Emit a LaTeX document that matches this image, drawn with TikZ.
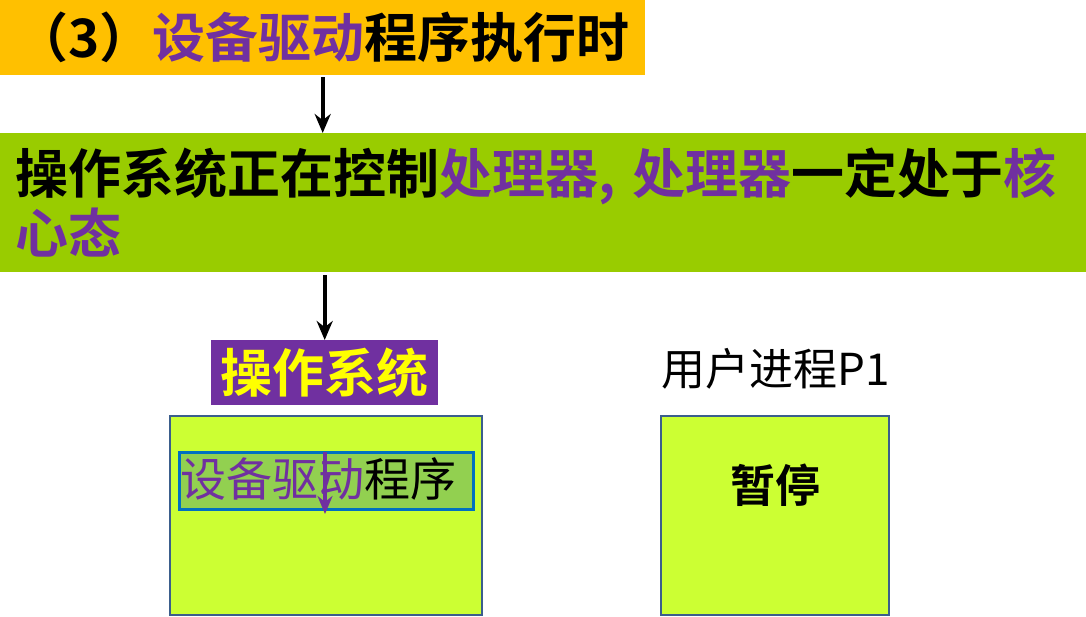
\documentclass[tikz,border=0pt]{standalone}
\usepackage{fontspec}
\setmainfont{Noto Sans CJK SC}[BoldFont={Noto Sans CJK SC Bold}]
\usetikzlibrary{arrows.meta}
\definecolor{hdrorange}{HTML}{FFC000}
\definecolor{bandgreen}{HTML}{99CC00}
\definecolor{pur}{HTML}{7030A0}
\definecolor{yel}{HTML}{FFFF00}
\definecolor{limefill}{HTML}{CCFF33}
\definecolor{boxedge}{HTML}{3B5E8C}
\definecolor{innerfill}{HTML}{92D050}
\definecolor{inneredge}{HTML}{0070C0}
\tikzset{
  arr/.style={line width=4.2pt,-{Stealth[length=19pt,width=16pt]}},
  bigbox/.style={draw=boxedge,line width=2.4pt,fill=limefill,anchor=north west,inner sep=0pt},
}
\begin{document}
\begin{tikzpicture}[x=1pt,y=-1pt]
\useasboundingbox (0,0) rectangle (1086,616);
% header
\node[fill=hdrorange,anchor=north west,minimum width=645pt,minimum height=75pt,inner sep=0pt,
  font=\fontsize{53}{60}\selectfont\bfseries] (hdr) at (0,0)
  {（3）\textcolor{pur}{设备驱动}程序执行时};
% green band
\node[fill=bandgreen,anchor=north west,minimum width=1086pt,minimum height=139pt,
  text width=1056pt,inner xsep=15pt,inner ysep=0pt,align=left,
  font=\fontsize{53}{60}\selectfont\bfseries] (band) at (0,133)
  {操作系统正在控制\textcolor{pur}{处理器,\hspace{17pt}处理器}一定处于\textcolor{pur}{核}\\\textcolor{pur}{心态}};
% OS label
\node[fill=pur,text=yel,anchor=north west,minimum width=227pt,minimum height=65pt,inner sep=0pt,
  font=\fontsize{52}{60}\selectfont\bfseries] (os) at (211,340) {操作系统};
% user process label
\node[font=\fontsize{44}{50}\selectfont,inner sep=0pt] (p1lbl) at (776,369) {用户进程P1};
% boxes
\node[bigbox,minimum width=312pt,minimum height=199pt] (osbox) at (169,415) {};
\node[bigbox,minimum width=228pt,minimum height=199pt] (p1box) at (660,415) {};
\node[draw=inneredge,line width=3.2pt,fill=innerfill,anchor=north west,minimum width=294pt,minimum height=57pt,inner sep=0pt] (drv) at (178,451) {};
\node[anchor=west,inner sep=0pt,font=\fontsize{46}{50}\selectfont] (drvtxt) at (180,479)
  {\textcolor{pur}{设备驱动}程序};
\node[font=\fontsize{45}{50}\selectfont\bfseries,inner sep=0pt] (pause) at (775,485) {暂停};
% arrows
\draw[arr] (hdr.south) ++(0,2) coordinate (a1s) -- (a1s |- band.north) coordinate (a1e);
\draw[arr] (band.south -| os.north) ++(0,3) coordinate (a2s) -- (os.north);
\coordinate (a3s) at (325,452);
\coordinate (a3e) at (325,514);
\draw[line width=4pt,draw=pur,-{Stealth[length=18pt,width=15pt]}] (a3s) -- (a3e);
\end{tikzpicture}
\end{document}
